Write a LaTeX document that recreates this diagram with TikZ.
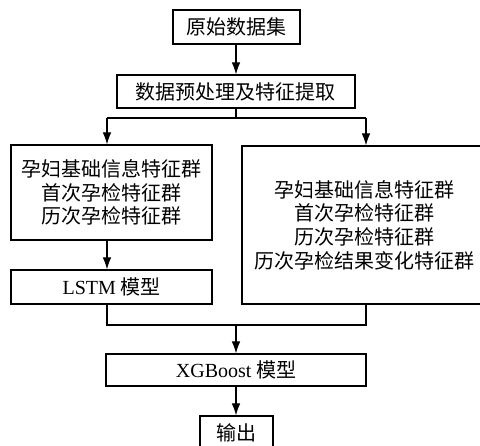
\documentclass[tikz,border=0pt]{standalone}
\usepackage{fontspec}
\setmainfont{Liberation Serif}
\newfontfamily\cjk{Noto Sans CJK SC}
\usetikzlibrary{arrows.meta}
\begin{document}
\begin{tikzpicture}[x=0.75pt,y=-0.75pt,
  box/.style={draw,line width=0.9pt,inner sep=0pt,align=center,
    font=\fontsize{15}{17.7}\selectfont\cjk},
  arr/.style={-{Latex[length=9pt,width=6.5pt]},line width=0.9pt},
  ln/.style={line width=0.9pt}]
\useasboundingbox (0,0) rectangle (480,446);
\clip (0,0) rectangle (480,446);
\node[box,minimum width={127*0.75pt},minimum height={34*0.75pt}] (b1) at (236.5,27) {原始数据集};
\node[box,minimum width={238*0.75pt},minimum height={33*0.75pt}] (b2) at (236,91.5) {数据预处理及特征提取};
\node[box,minimum width={201*0.75pt},minimum height={95*0.75pt}] (L) at (111.5,192.5) {孕妇基础信息特征群\\首次孕检特征群\\历次孕检特征群};
\node[box,minimum width={201*0.75pt},minimum height={34*0.75pt}] (lstm) at (111.5,287) {{\rmfamily LSTM} 模型};
\node[box,minimum width={246*0.75pt},minimum height={158*0.75pt}] (R) at (365,225) {孕妇基础信息特征群\\首次孕检特征群\\历次孕检特征群\\历次孕检结果变化特征群};
\node[box,minimum width={260*0.75pt},minimum height={32*0.75pt}] (xgb) at (236,370) {{\rmfamily XGBoost} 模型};
\node[box,minimum width={73*0.75pt},minimum height={34*0.75pt}] (out) at (236.5,433) {输出};
\coordinate (s) at (236,118);
\coordinate (sl) at (107,118);
\coordinate (sr) at (366,118);
\coordinate (ml) at (107,325);
\coordinate (mr) at (366,325);
\coordinate (mm) at (236,325);
\draw[arr] (b1.south -| s) -- (b2.north -| s);
\draw[ln] (b2.south -| s) -- (s);
\draw[ln] (sl) -- (sr);
\draw[arr] (sl) -- (L.north -| sl);
\draw[arr] (sr) -- (R.north -| sr);
\draw[arr] (L.south -| sl) -- (lstm.north -| sl);
\draw[ln] (lstm.south -| ml) -- (ml) -- (mr) -- (R.south -| mr);
\draw[arr] (mm) -- (xgb.north -| mm);
\draw[arr] (xgb.south -| mm) -- (out.north -| mm);
\end{tikzpicture}
\end{document}
